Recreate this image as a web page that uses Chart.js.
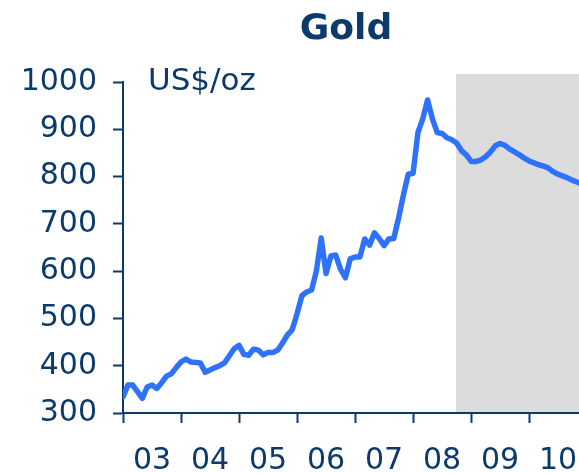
<!DOCTYPE html>
<html>
<head>
<meta charset="utf-8">
<title>Gold</title>
<script src="https://cdn.jsdelivr.net/npm/chart.js@4.4.1/dist/chart.umd.min.js"></script>
<style>
    html, body { margin: 0; padding: 0; background: #fff; }
    #wrap { width: 579px; height: 473px; position: relative; }
</style>
</head>
<body>
<div id="wrap"><canvas id="goldChart"></canvas></div>
<script>
// Gold price, US$/oz, monthly from Jan 2003 (forecast after late 2008)
const startYear = 2003;
const goldPrice = [
    334, 359, 359, 345, 331, 355, 359, 352, 364, 378, 383, 396,
    408, 414, 408, 407, 406, 386, 391, 396, 400, 406, 421, 436,
    443, 424, 422, 435, 433, 423, 428, 428, 433, 448, 465, 476,
    510, 548, 556, 560, 600, 670, 595, 632, 634, 604, 586, 626,
    630, 630, 668, 655, 681, 669, 654, 668, 669, 712, 761, 805,
    807, 893, 922, 962, 922, 893, 891, 882, 878, 871, 855, 846,
    832, 832, 835, 842, 852, 865, 870, 866, 858, 852, 846, 839,
    833, 829, 825, 822, 818, 810, 805, 801, 797, 792, 788, 784
];
const yearLabels = ['03', '04', '05', '06', '07', '08', '09', '10'];
const yTicks = [300, 400, 500, 600, 700, 800, 900, 1000];

// forecast period (shaded) and axis range, in years
const forecastStart = 2008.74;
const xEnd = 2010.86;
const shadeTop = 1017;

const NAVY = '#0b3a6b';
const LINE = '#2f72fa';
const FONT = "'DejaVu Sans', Verdana, sans-serif";

const points = goldPrice.map((v, i) => ({ x: startYear + i / 12, y: v }));

// year boundaries get tick marks, mid-years carry the labels
const yearTicks = [];
yearLabels.forEach((lbl, i) => {
    yearTicks.push({ value: startYear + i });
    yearTicks.push({ value: startYear + i + 0.5 });
});

const forecastShade = {
    id: 'forecastShade',
    beforeDatasetsDraw(chart) {
        const { ctx, chartArea, scales } = chart;
        const x0 = scales.x.getPixelForValue(forecastStart);
        const y0 = scales.y.getPixelForValue(shadeTop);
        const y1 = scales.y.getPixelForValue(yTicks[0]) - 1;
        ctx.save();
        ctx.fillStyle = '#dcdcdc';
        ctx.fillRect(x0, y0, chartArea.right - x0, y1 - y0);
        ctx.restore();
    }
};

const headings = {
    id: 'headings',
    afterDraw(chart) {
        const { ctx } = chart;
        ctx.save();
        ctx.fillStyle = NAVY;
        ctx.textBaseline = 'alphabetic';
        ctx.textAlign = 'center';
        ctx.font = 'bold 36px ' + FONT;
        ctx.fillText('Gold', 346, 39);
        ctx.textAlign = 'left';
        ctx.font = '31px ' + FONT;
        ctx.fillText('US$/oz', 148, 90);
        ctx.restore();
    }
};

new Chart(document.getElementById('goldChart'), {
    type: 'line',
    data: {
        datasets: [{
            data: points,
            borderColor: LINE,
            borderWidth: 5.5,
            borderJoinStyle: 'round',
            borderCapStyle: 'round',
            pointRadius: 0,
            tension: 0,
            fill: false
        }]
    },
    options: {
        responsive: true,
        maintainAspectRatio: false,
        animation: false,
        events: [],
        layout: { padding: { top: 82, left: 0, right: 0, bottom: 0 } },
        plugins: {
            legend: { display: false },
            tooltip: { enabled: false },
            title: { display: false }
        },
        scales: {
            x: {
                type: 'linear',
                min: startYear,
                max: xEnd,
                afterBuildTicks: scale => { scale.ticks = yearTicks.map(t => ({ ...t })); },
                afterFit: scale => {
                    scale.height = 60;
                    scale.paddingLeft = 0;
                    scale.paddingRight = 0;
                },
                border: { display: true, color: NAVY, width: 2 },
                grid: {
                    drawOnChartArea: false,
                    drawTicks: true,
                    tickLength: 10,
                    tickWidth: 2,
                    tickColor: c => (c.tick && Number.isInteger(c.tick.value)) ? NAVY : 'rgba(0,0,0,0)'
                },
                ticks: {
                    autoSkip: false,
                    maxRotation: 0,
                    padding: 20,
                    color: NAVY,
                    font: { family: FONT, size: 30 },
                    callback: v => Number.isInteger(v) ? '' : yearLabels[Math.floor(v) - startYear]
                }
            },
            y: {
                min: yTicks[0],
                max: yTicks[yTicks.length - 1],
                afterBuildTicks: scale => { scale.ticks = yTicks.map(v => ({ value: v })); },
                afterFit: scale => { scale.width = 123; },
                border: { display: true, color: NAVY, width: 2 },
                grid: {
                    drawOnChartArea: false,
                    drawTicks: true,
                    tickLength: 10,
                    tickWidth: 2,
                    tickColor: NAVY
                },
                ticks: {
                    padding: 16,
                    color: NAVY,
                    font: { family: FONT, size: 30 },
                    callback: v => String(v)
                }
            }
        }
    },
    plugins: [forecastShade, headings]
});
</script>
</body>
</html>
